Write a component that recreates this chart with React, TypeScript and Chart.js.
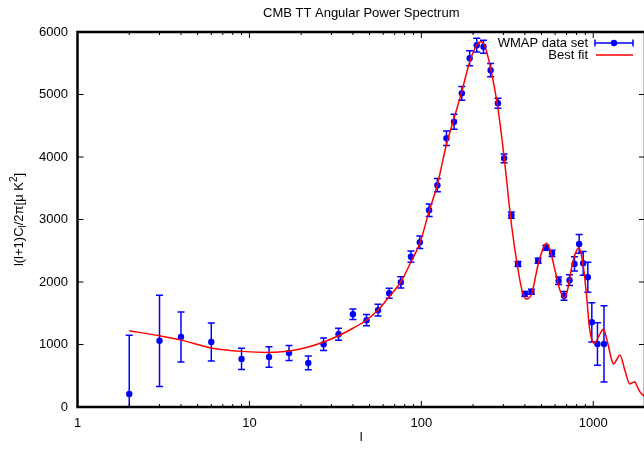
import React, { useEffect, useRef } from "react";
import { Chart, registerables } from "chart.js";

Chart.register(...registerables);

const TITLE = "CMB TT Angular Power Spectrum";
const X_LABEL = "l";
const LEGEND_DATA = "WMAP data set";
const LEGEND_FIT = "Best fit";

const X_TICKS = [1, 10, 100, 1000];
const Y_TICKS = [0, 1000, 2000, 3000, 4000, 5000, 6000];

// WMAP binned data: multipole, value, symmetric error
const dataL = [2, 3, 4, 6, 9, 13, 17, 22, 27, 33, 40, 48, 56, 65, 76, 87, 98, 111, 124, 140, 155, 172, 191, 210, 230, 253, 279, 303, 334, 365, 400, 437, 478, 530, 576, 629, 676, 728, 778, 828, 874, 930, 981, 1058, 1155];
const dataV = [210, 1060, 1120, 1040, 770, 800, 865, 705, 1005, 1165, 1485, 1390, 1550, 1820, 1995, 2405, 2635, 3150, 3550, 4300, 4565, 5020, 5580, 5790, 5765, 5390, 4860, 3980, 3070, 2290, 1810, 1845, 2340, 2550, 2460, 2020, 1780, 2030, 2290, 2610, 2300, 2075, 1355, 1010, 1010];
const dataErr = [940, 730, 400, 305, 170, 165, 120, 110, 100, 95, 85, 90, 95, 80, 90, 90, 100, 100, 105, 115, 120, 110, 120, 110, 105, 105, 80, 70, 50, 40, 40, 40, 40, 40, 50, 60, 70, 85, 115, 150, 190, 240, 315, 340, 610];

// Best fit curve
const fitL = [2, 3, 4, 6, 9, 13, 17, 22, 27, 33, 40, 48, 56, 65, 76, 87, 98, 111, 124, 140, 155, 172, 191, 210, 222, 235, 253, 279, 303, 335, 365, 385, 407, 437, 478, 510, 534, 560, 600, 640, 678, 710, 750, 790, 828, 855, 885, 920, 946, 980, 1016, 1080, 1145, 1210, 1280, 1312, 1370, 1429, 1530, 1633, 1690, 1745, 1800, 1866, 2000];
const fitV = [1220, 1140, 1070, 945, 890, 872, 895, 960, 1040, 1140, 1260, 1392, 1552, 1765, 2000, 2320, 2620, 3130, 3560, 4200, 4620, 5050, 5520, 5790, 5845, 5760, 5420, 4780, 4000, 2900, 2200, 1870, 1728, 1800, 2280, 2530, 2619, 2520, 2180, 1870, 1749, 1880, 2240, 2470, 2549, 2420, 2150, 1700, 1312, 1080, 1019, 1140, 1243, 1040, 752, 688, 760, 832, 580, 368, 390, 405, 330, 245, 160];

const FONT = "'Liberation Sans', Arial, Helvetica, sans-serif";
const BLUE = "#0000ff";
const RED = "#ff0000";

const gnuplotPlugin = {
  id: "gnuplotLook",
  beforeDatasetsDraw(chart: any) {
    const { ctx, chartArea: a, scales } = chart;
    const x = scales.x;
    const y = scales.y;
    ctx.save();
    ctx.beginPath();
    ctx.rect(a.left, a.top, a.right - a.left, a.bottom - a.top);
    ctx.clip();
    ctx.strokeStyle = BLUE;
    ctx.lineWidth = 1.5;
    dataL.forEach((l, i) => {
      const px = x.getPixelForValue(l);
      const yt = y.getPixelForValue(dataV[i] + dataErr[i]);
      const yb = y.getPixelForValue(dataV[i] - dataErr[i]);
      ctx.beginPath();
      ctx.moveTo(px, yt);
      ctx.lineTo(px, yb);
      ctx.moveTo(px - 3.5, yt);
      ctx.lineTo(px + 3.5, yt);
      ctx.moveTo(px - 3.5, yb);
      ctx.lineTo(px + 3.5, yb);
      ctx.stroke();
    });
    ctx.restore();
  },
  afterDraw(chart: any) {
    const { ctx, chartArea: a, scales } = chart;
    const x = scales.x;
    const y = scales.y;
    ctx.save();
    // ticks
    ctx.strokeStyle = "#000";
    ctx.lineWidth = 1;
    ctx.beginPath();
    Y_TICKS.forEach((v) => {
      const py = y.getPixelForValue(v);
      ctx.moveTo(a.left, py);
      ctx.lineTo(a.left + 6, py);
      ctx.moveTo(a.right, py);
      ctx.lineTo(a.right - 6, py);
    });
    for (let d = 0; d <= 3; d++) {
      for (let k = 1; k <= 9; k++) {
        const v = k * Math.pow(10, d);
        if (v > 2000) continue;
        const px = x.getPixelForValue(v);
        const len = k === 1 ? 6 : 3;
        ctx.moveTo(px, a.bottom);
        ctx.lineTo(px, a.bottom - len);
        ctx.moveTo(px, a.top);
        ctx.lineTo(px, a.top + len);
      }
    }
    ctx.stroke();
    // border
    ctx.lineWidth = 2.5;
    ctx.strokeRect(a.left, a.top, a.right - a.left, a.bottom - a.top);

    // titles
    ctx.fillStyle = "#000";
    ctx.font = `13px ${FONT}`;
    ctx.textAlign = "center";
    ctx.textBaseline = "middle";
    const cx = (a.left + a.right) / 2;
    ctx.fillText(TITLE, cx, 13);
    ctx.fillText(X_LABEL, cx, 437);

    // y title with sub/superscript
    const segs = [
      { t: "l(l+1)C", k: 0 },
      { t: "l", k: 1 },
      { t: "/2\u03c0[\u03bc K", k: 0 },
      { t: "2", k: -1 },
      { t: "]", k: 0 },
    ];
    const fontFor = (k: number) => (k === 0 ? `13px ${FONT}` : `10px ${FONT}`);
    let total = 0;
    segs.forEach((s) => {
      ctx.font = fontFor(s.k);
      total += ctx.measureText(s.t).width;
    });
    ctx.translate(18, (a.top + a.bottom) / 2);
    ctx.rotate(-Math.PI / 2);
    ctx.textAlign = "left";
    ctx.textBaseline = "alphabetic";
    let tx = -total / 2;
    segs.forEach((s) => {
      ctx.font = fontFor(s.k);
      const dy = s.k === 1 ? 3 : s.k === -1 ? -6 : 0;
      ctx.fillText(s.t, tx, 5 + dy);
      tx += ctx.measureText(s.t).width;
    });
    ctx.setTransform(1, 0, 0, 1, 0, 0);

    // legend
    ctx.font = `13px ${FONT}`;
    ctx.textAlign = "right";
    ctx.textBaseline = "middle";
    ctx.fillStyle = "#000";
    ctx.fillText(LEGEND_DATA, 588, 43);
    ctx.fillText(LEGEND_FIT, 588, 55);
    ctx.strokeStyle = BLUE;
    ctx.lineWidth = 1.5;
    ctx.beginPath();
    ctx.moveTo(595, 43);
    ctx.lineTo(633, 43);
    ctx.moveTo(595, 39.5);
    ctx.lineTo(595, 46.5);
    ctx.moveTo(633, 39.5);
    ctx.lineTo(633, 46.5);
    ctx.stroke();
    ctx.fillStyle = BLUE;
    ctx.beginPath();
    ctx.arc(614, 43, 3.2, 0, Math.PI * 2);
    ctx.fill();
    ctx.strokeStyle = RED;
    ctx.beginPath();
    ctx.moveTo(596, 55);
    ctx.lineTo(633, 55);
    ctx.stroke();
    ctx.restore();
  },
};

export default function App() {
  const ref = useRef<HTMLCanvasElement | null>(null);
  useEffect(() => {
    document.body.style.overflow = "hidden";
    if (!ref.current) return;
    const chart = new Chart(ref.current, {
      type: "scatter",
      data: {
        datasets: [
          {
            label: LEGEND_FIT,
            data: fitL.map((l, i) => ({ x: l, y: fitV[i] })),
            showLine: true,
            borderColor: RED,
            borderWidth: 1.5,
            pointRadius: 0,
            cubicInterpolationMode: "monotone",
            order: 0,
          } as any,
          {
            label: LEGEND_DATA,
            data: dataL.map((l, i) => ({ x: l, y: dataV[i] })),
            showLine: false,
            backgroundColor: BLUE,
            borderColor: BLUE,
            borderWidth: 0,
            pointRadius: 3.2,
            order: 1,
          },
        ],
      },
      options: {
        animation: false,
        responsive: false,
        maintainAspectRatio: false,
        layout: { padding: { top: 32, right: 0, bottom: 0, left: 0 } },
        plugins: {
          legend: { display: false },
          tooltip: { enabled: false },
          title: { display: false },
        },
        scales: {
          x: {
            type: "logarithmic",
            min: 1,
            max: 2000,
            grid: { display: false, drawTicks: false },
            border: { display: false },
            afterBuildTicks: (s: any) => {
              s.ticks = X_TICKS.map((v) => ({ value: v }));
            },
            afterFit: (s: any) => {
              s.height = 43;
            },
            ticks: {
              padding: 8.5,
              color: "#000",
              font: { size: 13, family: FONT },
              maxRotation: 0,
              autoSkip: false,
              callback: (v: any) => String(v),
            },
          },
          y: {
            min: 0,
            max: 6000,
            grid: { display: false, drawTicks: false },
            border: { display: false },
            afterBuildTicks: (s: any) => {
              s.ticks = Y_TICKS.map((v) => ({ value: v }));
            },
            afterFit: (s: any) => {
              s.width = 77.5;
            },
            ticks: {
              padding: 9.5,
              color: "#000",
              font: { size: 13, family: FONT },
              callback: (v: any) => String(v),
            },
          },
        },
      } as any,
      plugins: [gnuplotPlugin],
    });
    return () => chart.destroy();
  }, []);
  return (
    <div style={{ position: "fixed", left: 0, top: 0, width: 649, height: 450, background: "#fff" }}>
      <canvas ref={ref} width={649} height={450} style={{ display: "block", width: 649, height: 450 }} />
    </div>
  );
}
